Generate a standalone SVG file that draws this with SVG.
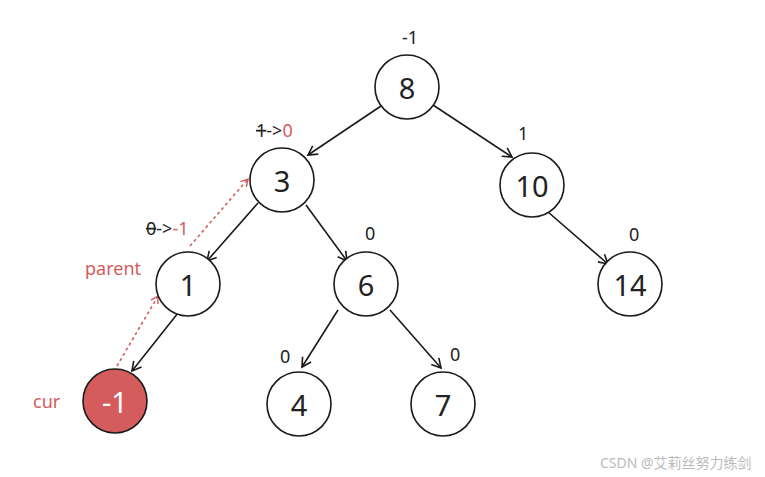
<svg xmlns="http://www.w3.org/2000/svg" width="765" height="477" viewBox="0 0 765 477">
<style>
.n{fill:#fff;stroke:#1a1a1a;stroke-width:1.6}
.nt{font-family:"Noto Sans",sans-serif;font-size:29px;fill:#222;text-anchor:middle;dominant-baseline:central}
.e{stroke:#1a1a1a;stroke-width:1.6;fill:none;marker-end:url(#a)}
.d{stroke:#d45c5c;stroke-width:1.6;fill:none;stroke-dasharray:3 3;marker-end:url(#r)}
.l{font-family:"Noto Sans",sans-serif;font-size:18px;fill:#222}
.red{fill:#d45c5c}
</style>
<defs>
<marker id="a" markerWidth="12" markerHeight="12" refX="10" refY="6" orient="auto" markerUnits="userSpaceOnUse"><path d="M1,1 L10,6 L1,11" fill="none" stroke="#1a1a1a" stroke-width="1.6"/></marker>
<marker id="r" markerWidth="10" markerHeight="10" refX="8" refY="5" orient="auto" markerUnits="userSpaceOnUse"><path d="M1,1 L8,5 L1,9" fill="none" stroke="#d45c5c" stroke-width="1.4"/></marker>
</defs>
<rect width="765" height="477" fill="#fff"/>
<g id="connectors">
<line class="e" x1="381" y1="106" x2="308" y2="155"/>
<line class="e" x1="433" y1="105" x2="512" y2="157"/>
<line class="e" x1="258" y1="203" x2="207" y2="261"/>
<line class="e" x1="306" y1="205" x2="347" y2="261"/>
<line class="e" x1="548" y1="212" x2="608" y2="264"/>
<line class="e" x1="178" y1="313" x2="132" y2="371"/>
<line class="e" x1="338" y1="310" x2="302" y2="367"/>
<line class="e" x1="390" y1="310" x2="441" y2="368"/>
<line class="d" x1="117" y1="366" x2="158" y2="296"/>
<line class="d" x1="190" y1="246" x2="248" y2="179"/>
</g>
<g id="node8"><circle class="n" cx="407" cy="87" r="32"/><text class="nt" x="407" y="87">8</text></g>
<g id="node3"><circle class="n" cx="282" cy="180" r="32"/><text class="nt" x="282" y="180">3</text></g>
<g id="node10"><circle class="n" cx="532" cy="185" r="32"/><text class="nt" x="532" y="185">10</text></g>
<g id="node1"><circle class="n" cx="188" cy="284" r="32"/><text class="nt" x="188" y="284">1</text></g>
<g id="node6"><circle class="n" cx="366" cy="284" r="32"/><text class="nt" x="366" y="284">6</text></g>
<g id="node14"><circle class="n" cx="630" cy="284" r="32"/><text class="nt" x="630" y="284">14</text></g>
<g id="nodem1"><circle cx="115" cy="401" r="32" fill="#d45c5c" stroke="#1a1a1a" stroke-width="1.6"/><text class="nt" x="115" y="401" style="fill:#fff">-1</text></g>
<g id="node4"><circle class="n" cx="299" cy="404" r="32"/><text class="nt" x="299" y="404">4</text></g>
<g id="node7"><circle class="n" cx="443" cy="404" r="32"/><text class="nt" x="443" y="404">7</text></g>
<g id="labels">
<text class="l" x="402" y="44">-1</text>
<text class="l" x="256" y="137"><tspan text-decoration="line-through">1</tspan>-&gt;<tspan class="red">0</tspan></text>
<text class="l" x="518" y="140">1</text>
<text class="l" x="146" y="235"><tspan text-decoration="line-through">0</tspan>-&gt;<tspan class="red">-1</tspan></text>
<text class="l" x="365" y="240">0</text>
<text class="l" x="629" y="241">0</text>
<text class="l" x="280" y="363">0</text>
<text class="l" x="450" y="361">0</text>
<text class="l red" x="85" y="275">parent</text>
<text class="l red" x="33" y="408">cur</text>
<text x="600" y="468" font-family="'Noto Sans','Noto Sans CJK SC',sans-serif" font-size="14" fill="#bbb">CSDN @艾莉丝努力练剑</text>
</g>
</svg>
